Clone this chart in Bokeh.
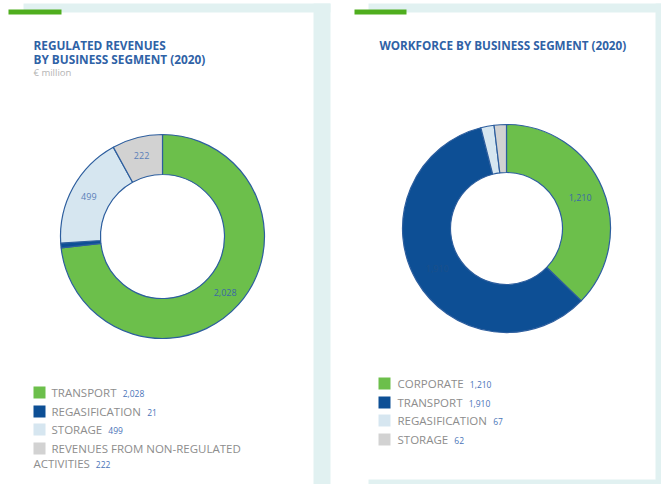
import math
from bokeh.plotting import figure
from bokeh.models import Range1d
from bokeh.core.properties import value
from bokeh.embed import file_html
from bokeh.resources import INLINE

# ---- data ----
rev_categories = ["TRANSPORT", "REGASIFICATION", "STORAGE", "REVENUES FROM NON-REGULATED ACTIVITIES"]
rev_values = [2028, 21, 499, 222]
rev_labels = ["2,028", "21", "499", "222"]

wf_categories = ["CORPORATE", "TRANSPORT", "REGASIFICATION", "STORAGE"]
wf_values = [1210, 1910, 67, 62]
wf_labels = ["1,210", "1,910", "67", "62"]

rev_colors = ["#6cbf4b", "#0d4f95", "#d6e6f0", "#d2d2d2"]
wf_colors = ["#6cbf4b", "#0d4f95", "#d6e6f0", "#d2d2d2"]

TITLE_BLUE = "#2f62a6"
VAL_BLUE = "#4a74b8"
GRAY_TXT = "#8d8d8d"
TEAL = "#e1f1f1"
FONT = "Open Sans"

W, H = 661, 484

# Open Sans advance widths (per 1000 em) for layout of legend values
CW = {"A": 633, "B": 647, "C": 631, "D": 729, "E": 556, "F": 516, "G": 728, "H": 738, "I": 279,
      "J": 267, "K": 613, "L": 519, "M": 907, "N": 764, "O": 779, "P": 602, "Q": 779, "R": 618,
      "S": 549, "T": 553, "U": 758, "V": 582, "W": 902, "X": 575, "Y": 559, "Z": 559, " ": 260,
      "-": 322}

def tw(s, size):
    return sum(CW.get(ch, 600) for ch in s) / 1000.0 * size

def Y(sy):
    return H - sy

p = figure(width=W, height=H, output_backend="svg", toolbar_location=None,
           x_range=Range1d(0, W), y_range=Range1d(0, H), min_border=0)
p.axis.visible = False
p.grid.visible = False
p.outline_line_color = None
p.background_fill_color = "white"
p.border_fill_color = "white"

# ---- panel backgrounds ----
def box(x0, x1, sy0, sy1, color):
    p.quad(left=[x0], right=[x1], top=[Y(sy0)], bottom=[Y(sy1)], fill_color=color, line_color=None)

box(23, 330, 3, 12, TEAL)
box(313, 330, 3, 484, TEAL)
box(368, 661, 3, 12, TEAL)
box(655, 661, 3, 484, TEAL)
box(368, 661, 479, 484, TEAL)
box(8, 61, 9, 14, "#4fae1e")
box(354, 406, 9, 14, "#4fae1e")

# ---- titles ----
def txt(x, sy, s, size, color, bold=False, align="left"):
    p.text(x=[x], y=[Y(sy)], text=[s], text_font=value(FONT), text_font_size=size,
           text_color=color, text_baseline="middle", text_align=align,
           text_font_style="bold" if bold else "normal")

txt(33, 44, "REGULATED REVENUES", "11.8px", TITLE_BLUE, bold=True)
txt(33, 58, "BY BUSINESS SEGMENT (2020)", "11.8px", TITLE_BLUE, bold=True)
txt(33, 72, "€ million", "9.5px", "#b4b4b4")
txt(379, 44, "WORKFORCE BY BUSINESS SEGMENT (2020)", "11.7px", TITLE_BLUE, bold=True)

# ---- donuts ----
def donut(cx, csy, r_in, r_out, vals, colors, labels, label_idx, label_r, label_colors):
    total = float(sum(vals))
    a = math.pi / 2
    starts, ends = [], []
    for v in vals:
        e = a - v / total * 2 * math.pi
        starts.append(e)
        ends.append(a)
        a = e
    p.annular_wedge(x=[cx] * len(vals), y=[Y(csy)] * len(vals), inner_radius=r_in, outer_radius=r_out,
                    start_angle=starts, end_angle=ends, fill_color=colors,
                    line_color="#2d5e9e", line_width=1.2)
    for i, lc in zip(label_idx, label_colors):
        mid = (starts[i] + ends[i]) / 2
        lx = cx + label_r * math.cos(mid)
        ly = Y(csy) + label_r * math.sin(mid)
        p.text(x=[lx], y=[ly], text=[labels[i]], text_font=value(FONT), text_font_size="9px",
               text_color=lc, text_align="center", text_baseline="middle")

donut(162, 236, 62, 102, rev_values, rev_colors, rev_labels, [0, 2, 3], 84,
      ["#3b67a8", "#5a7fb8", "#5a7fb8"])
donut(506, 228, 56, 104, wf_values, wf_colors, wf_labels, [0, 1], 80,
      ["#3b67a8", "#1c4f8a"])

# ---- legends ----
LSIZE = 11.5
def legend(sq_x, txt_x, rows_sy, cats, vals_lbl, colors, wrap=None):
    for i, (c, v, col) in enumerate(zip(cats, vals_lbl, colors)):
        sy = rows_sy[i]
        p.quad(left=[sq_x], right=[sq_x + 12], top=[Y(sy - 6)], bottom=[Y(sy + 6)],
               fill_color=col, line_color=None)
        if wrap is not None and i == wrap[0]:
            first, second = wrap[1], wrap[2]
            txt(txt_x, sy, first, "%gpx" % LSIZE, GRAY_TXT)
            txt(sq_x, sy + 15, second, "%gpx" % LSIZE, GRAY_TXT)
            txt(sq_x + tw(second, LSIZE) + 6, sy + 15.5, v, "8.5px", VAL_BLUE)
        else:
            txt(txt_x, sy, c, "%gpx" % LSIZE, GRAY_TXT)
            txt(txt_x + tw(c, LSIZE) + 6, sy + 0.5, v, "8.5px", VAL_BLUE)

legend(33, 51, [392, 411, 429, 448], rev_categories, rev_labels, rev_colors,
       wrap=(3, "REVENUES FROM NON-REGULATED", "ACTIVITIES"))
legend(378, 397, [383, 402, 420, 439], wf_categories, wf_labels, wf_colors)

open("out.html", "w").write(file_html(p, INLINE))
